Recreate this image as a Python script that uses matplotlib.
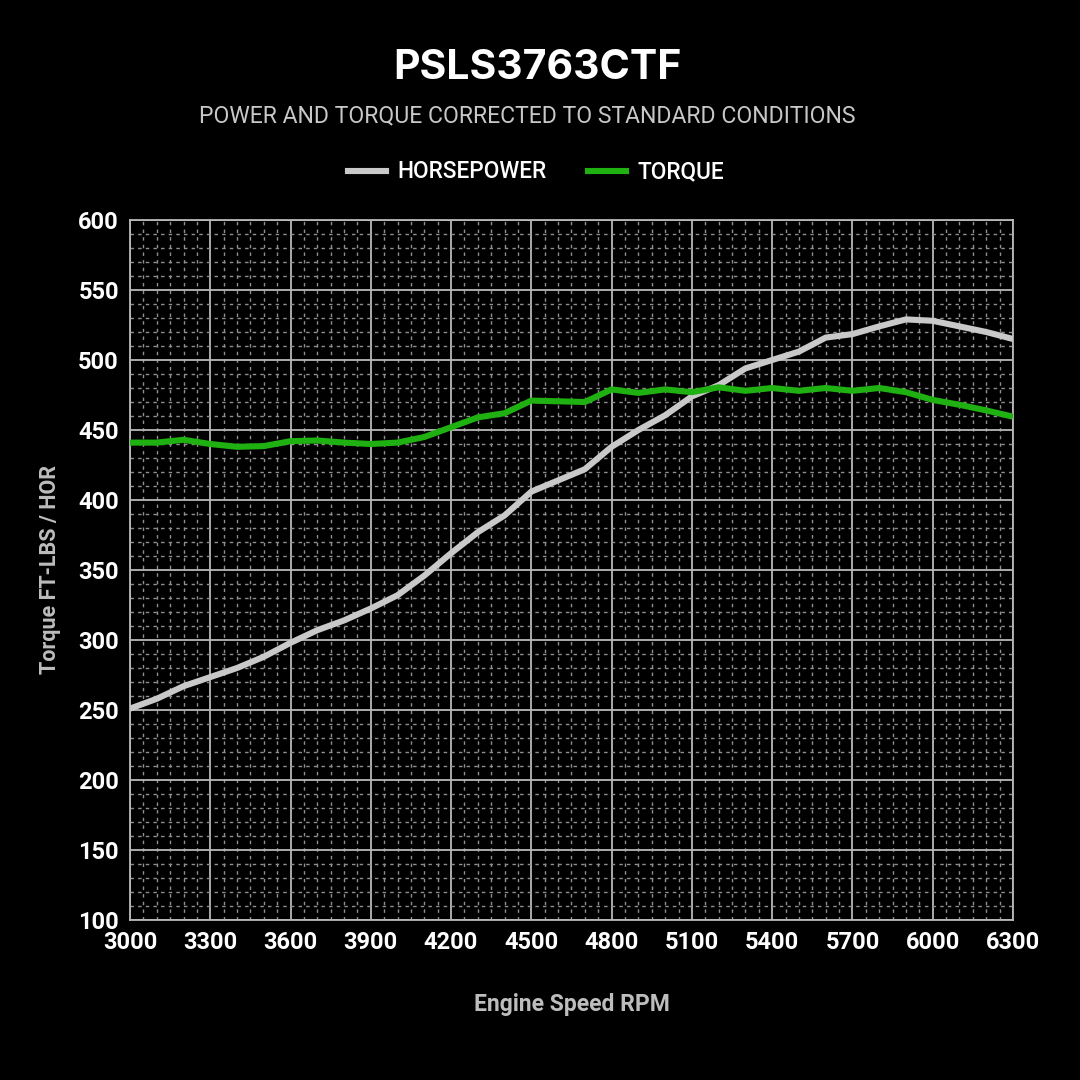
import matplotlib
matplotlib.use("Agg")
import matplotlib.pyplot as plt
from matplotlib.ticker import MultipleLocator
from matplotlib.lines import Line2D

rpm = [3000, 3100, 3200, 3300, 3400, 3500, 3600, 3700, 3800, 3900, 4000,
       4100, 4200, 4300, 4400, 4500, 4600, 4700, 4800, 4900, 5000,
       5100, 5200, 5300, 5400, 5500, 5600, 5700, 5800, 5900, 6000,
       6100, 6200, 6300]
horsepower = [251, 258, 267, 273.5, 280, 288, 298, 307, 314, 322.5, 332,
              346, 362, 377, 389, 406, 414, 422, 438, 450, 460.5,
              474, 482, 494, 500, 506, 516, 518.5, 524, 529, 528,
              524, 520, 515]
torque = [441, 441, 443, 440, 438, 438.5, 442, 442.5, 441, 440, 441,
          445, 452, 459, 462, 471, 470.5, 470, 479, 476.5, 479,
          477, 480.5, 478, 480, 478, 480, 478, 480, 477, 471.5,
          468, 464, 459.5]

x_ticks = [3000, 3300, 3600, 3900, 4200, 4500, 4800, 5100, 5400, 5700, 6000, 6300]
y_ticks = [100, 150, 200, 250, 300, 350, 400, 450, 500, 550, 600]

title = "PSLS3763CTF"
subtitle = "POWER AND TORQUE CORRECTED TO STANDARD CONDITIONS"
series_names = ["HORSEPOWER", "TORQUE"]

HP_COLOR = "#c9c9c9"
TQ_COLOR = "#1fb011"
BG = "#000000"

fig = plt.figure(figsize=(10.8, 10.8), dpi=100, facecolor=BG)
ax = fig.add_axes([130/1080, 1 - 920/1080, 883/1080, 700/1080], facecolor=BG)

ax.plot(rpm, horsepower, color=HP_COLOR, lw=4.4, solid_joinstyle="round",
        solid_capstyle="butt", zorder=3)
ax.plot(rpm, torque, color=TQ_COLOR, lw=4.4, solid_joinstyle="round",
        solid_capstyle="butt", zorder=4)

ax.set_xlim(3000, 6300)
ax.set_ylim(100, 600)
ax.set_xticks(x_ticks)
ax.set_yticks(y_ticks)
ax.xaxis.set_minor_locator(MultipleLocator(50))
ax.yaxis.set_minor_locator(MultipleLocator(10))

ax.grid(which="major", color="#b8b8b8", lw=1.3, zorder=1)
ax.grid(which="minor", color="#8f8f8f", lw=1.0, ls=(0, (2.5, 3)), zorder=0)
for s in ax.spines.values():
    s.set_color("#b8b8b8")
    s.set_linewidth(1.3)

tick_font = dict(family=["Roboto", "DejaVu Sans"], weight="bold", size=17)
ax.tick_params(which="both", length=0, colors="white", pad=8)
ax.set_xticklabels([str(t) for t in x_ticks], fontdict=tick_font, color="white")
ax.set_yticklabels([str(t) for t in y_ticks], fontdict=tick_font, color="white")

ax.set_xlabel("Engine Speed RPM", color="#bdbdbd", fontsize=16.5, weight="bold",
              family=["Roboto", "DejaVu Sans"], labelpad=28)
ax.set_ylabel("Torque FT-LBS / HOR", color="#bdbdbd", fontsize=15.5, weight="bold",
              family=["Roboto", "DejaVu Sans"], labelpad=12)

fig.text(537/1080, 1 - 68/1080, title, ha="center", va="center", color="white",
         fontsize=29.5, weight="bold", family=["Inter", "Roboto", "DejaVu Sans"])
fig.text(527/1080, 1 - 116/1080, subtitle, ha="center", va="center", color="#c8c8c8",
         fontsize=16.6, family=["Roboto", "DejaVu Sans"])

handles = [Line2D([], [], color=HP_COLOR, lw=4.4),
           Line2D([], [], color=TQ_COLOR, lw=4.4)]
leg = fig.legend(handles, series_names, loc="center", bbox_to_anchor=(536/1080, 1 - 172/1080),
                 ncol=2, frameon=False, handlelength=1.7, handletextpad=0.5,
                 columnspacing=1.8,
                 prop=dict(family=["Roboto", "DejaVu Sans"], size=16.3, weight="medium"))
for t in leg.get_texts():
    t.set_color("white")

fig.savefig("out.png", dpi=100, facecolor=BG)
